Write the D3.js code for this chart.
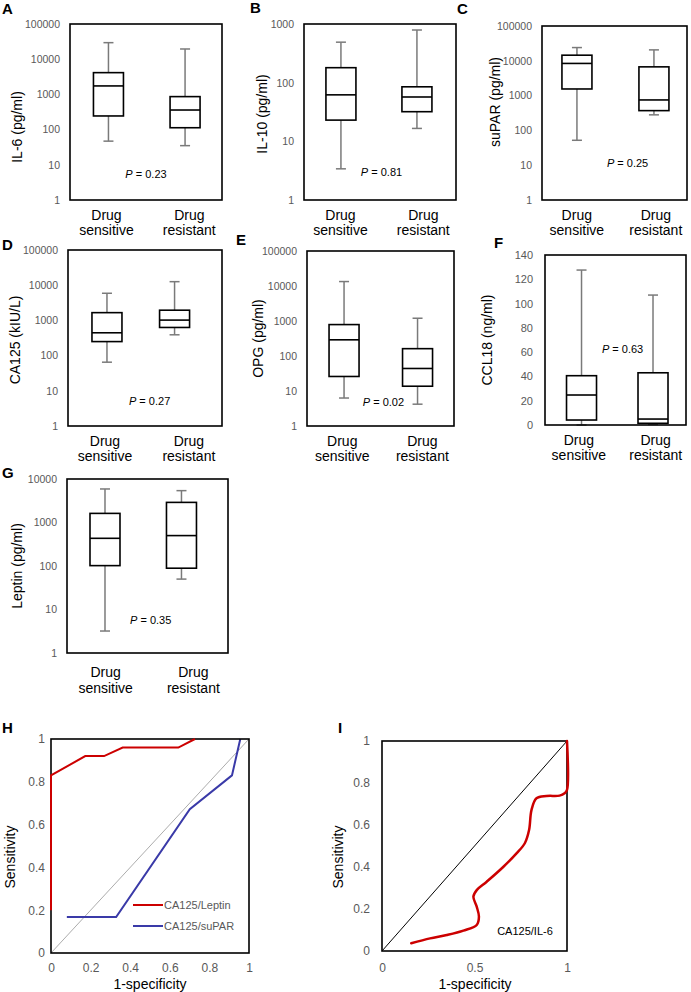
<!DOCTYPE html>
<html><head><meta charset="utf-8">
<script src="https://cdn.jsdelivr.net/npm/d3@7"></script>
<style>
body{margin:0;background:#fff;}
text{font-family:"Liberation Sans",Arial,sans-serif;}
</style></head>
<body>
<script>
// ---------- DATA ----------
const categories = ["Drug sensitive", "Drug resistant"];
// five-number summaries: [min, Q1, median, Q3, max]
const il6Sensitive   = [47, 244, 1740, 4150, 29500];
const il6Resistant   = [35, 113, 360, 865, 19500];
const il10Sensitive  = [3.4, 23, 62, 180, 490];
const il10Resistant  = [16.6, 32, 57, 85, 790];
const suparSensitive = [52, 1550, 8400, 14500, 24000];
const suparResistant = [280, 370, 750, 6700, 20600];
const ca125Sensitive = [65, 250, 445, 1660, 5900];
const ca125Resistant = [390, 630, 1020, 1950, 12600];
const opgSensitive   = [6.3, 26, 290, 790, 13400];
const opgResistant   = [4.2, 13.7, 44, 162, 1200];
const ccl18Sensitive = [0, 4.1, 24.7, 40.6, 127.6];
const ccl18Resistant = [0.5, 1.4, 4.9, 43, 107];
const leptinSensitive= [3.2, 102, 433, 1620, 5900];
const leptinResistant= [50, 89, 500, 2900, 5400];

const pValues = {A:"0.23", B:"0.81", C:"0.25", D:"0.27", E:"0.02", F:"0.63", G:"0.35"};

const logTicks5 = [1, 10, 100, 1000, 10000, 100000];
const logTicks4 = [1, 10, 100, 1000, 10000];
const logTicks3 = [1, 10, 100, 1000];
const linTicksCCL = [0, 20, 40, 60, 80, 100, 120, 140];
const rocTicksH = [0, 0.2, 0.4, 0.6, 0.8, 1];
const rocTicksIx = [0, 0.5, 1];
const rocTicksIy = [0, 0.2, 0.4, 0.6, 0.8, 1];

// ROC H
const leptinFPR = [0, 0, 0.173, 0.268, 0.362, 0.643, 0.727];
const leptinTPR = [0.2, 0.83, 0.92, 0.92, 0.96, 0.96, 1.0];
const suparFPR  = [0.08, 0.329, 0.701, 0.914, 0.956];
const suparTPR  = [0.168, 0.168, 0.672, 0.83, 1.0];
// ROC I
const il6RocFPR = [0.158,0.26,0.35,0.44,0.512,0.524,0.512,0.494,0.512,0.566,0.655,0.727,0.772,0.795,0.808,0.835,0.889,0.96,0.987,1,1];
const il6RocTPR = [0.037,0.06,0.076,0.097,0.124,0.163,0.211,0.259,0.29,0.33,0.40,0.465,0.513,0.576,0.671,0.727,0.738,0.74,0.751,0.767,1];

// ---------- PANEL DEFINITIONS ----------
const panels = [
  {id:"A", title:"IL-6 (pg/ml)",  series:[il6Sensitive, il6Resistant],   type:"log", domain:[1,1e5], ticks:logTicks5},
  {id:"B", title:"IL-10 (pg/ml)", series:[il10Sensitive, il10Resistant], type:"log", domain:[1,1e3], ticks:logTicks3},
  {id:"C", title:"suPAR (pg/ml)", series:[suparSensitive, suparResistant], type:"log", domain:[1,1e5], ticks:logTicks5},
  {id:"D", title:"CA125 (kIU/L)", series:[ca125Sensitive, ca125Resistant], type:"log", domain:[1,1e5], ticks:logTicks5},
  {id:"E", title:"OPG (pg/ml)",   series:[opgSensitive, opgResistant],   type:"log", domain:[1,1e5], ticks:logTicks5},
  {id:"F", title:"CCL18 (ng/ml)", series:[ccl18Sensitive, ccl18Resistant], type:"lin", domain:[0,140], ticks:linTicksCCL},
  {id:"G", title:"Leptin (pg/ml)",series:[leptinSensitive, leptinResistant], type:"log", domain:[1,1e4], ticks:logTicks4}
];

// ---------- LAYOUT (pixels) ----------
const layout = {
  A:{x0:70, x1:222, y0:24, y1:200, box:[0.253,0.757], titleX:53, titleDy:15, letter:[2,14], p:[0.50,0.85], labDy:[20,35]},
  B:{x0:304,x1:456, y0:24, y1:200, box:[0.243,0.743], titleX:42, titleDy:2,  letter:[250,13], p:[0.51,0.84], labDy:[20,35]},
  C:{x0:542,x1:687, y0:26, y1:200, box:[0.241,0.772], titleX:47, titleDy:-11,letter:[457,14], p:[0.59,0.79], labDy:[20,35]},
  D:{x0:68, x1:222, y0:250,y1:426, box:[0.253,0.692], titleX:53, titleDy:2,  letter:[2,250], p:[0.53,0.86], labDy:[20,35]},
  E:{x0:307,x1:454, y0:251,y1:426, box:[0.252,0.752], titleX:49, titleDy:0,  letter:[236,245], p:[0.52,0.86], labDy:[20,35]},
  F:{x0:545,x1:686, y0:255,y1:425, box:[0.259,0.766], titleX:58, titleDy:0,  letter:[494,248], p:[0.55,0.55], labDy:[20,35]},
  G:{x0:67, x1:228, y0:479,y1:653, box:[0.236,0.711], titleX:50, titleDy:0,  letter:[2,478], p:[0.52,0.81], labDy:[24,40]}
};

const svg = d3.select("body").append("svg").attr("width",691).attr("height",992);
const TICK = "#595959", WHISK = "#7a7a7a";

function letter(id, pos){
  svg.append("text").attr("x",pos[0]).attr("y",pos[1]).text(id)
    .attr("font-size",15).attr("font-weight","bold").attr("fill","#000");
}

panels.forEach(p => {
  const L = layout[p.id];
  const g = svg.append("g");
  const y = (p.type === "log" ? d3.scaleLog() : d3.scaleLinear()).domain(p.domain).range([L.y1, L.y0]);
  const w = L.x1 - L.x0;
  const xBox = d3.scaleOrdinal().domain(categories).range(L.box.map(f => L.x0 + f*w));
  const xLab = d3.scalePoint().domain(categories).range([L.x0 + 0.24*w, L.x0 + 0.785*w]);

  // axis
  const ax = g.append("g").attr("transform",`translate(${L.x0},0)`)
    .call(d3.axisLeft(y).tickValues(p.ticks).tickFormat(d3.format("d")).tickSize(0).tickPadding(p.type==="log"?10:12));
  ax.select(".domain").remove();
  ax.selectAll("text").attr("fill",TICK).attr("font-size", p.type==="log"?10.5:11).attr("font-family",'"Liberation Sans",Arial,sans-serif');

  // boxes
  const bw = 30, cap = 10;
  categories.forEach((c,i) => {
    const s = p.series[i];
    const cx = xBox(c);
    g.append("line").attr("x1",cx).attr("x2",cx).attr("y1",y(Math.max(s[0],p.domain[0]))).attr("y2",y(s[1]))
      .attr("stroke",WHISK).attr("stroke-width",1.5);
    g.append("line").attr("x1",cx).attr("x2",cx).attr("y1",y(s[3])).attr("y2",y(s[4]))
      .attr("stroke",WHISK).attr("stroke-width",1.5);
    [s[0], s[4]].forEach(v => g.append("line").attr("x1",cx-cap/2).attr("x2",cx+cap/2)
      .attr("y1",y(Math.max(v,p.domain[0]))).attr("y2",y(Math.max(v,p.domain[0]))).attr("stroke",WHISK).attr("stroke-width",1.5));
    g.append("rect").attr("x",cx-bw/2).attr("width",bw).attr("y",y(s[3])).attr("height",y(s[1])-y(s[3]))
      .attr("fill","#fff").attr("stroke","#000").attr("stroke-width",1.6);
    g.append("line").attr("x1",cx-bw/2).attr("x2",cx+bw/2).attr("y1",y(s[2])).attr("y2",y(s[2]))
      .attr("stroke","#000").attr("stroke-width",1.6);
  });

  // frame
  g.append("rect").attr("x",L.x0).attr("y",L.y0).attr("width",w).attr("height",L.y1-L.y0)
    .attr("fill","none").attr("stroke","#000").attr("stroke-width",1.6);

  // category labels
  categories.forEach(c => {
    const parts = c.split(" ");
    parts.forEach((t,k) => g.append("text").attr("x",xLab(c)).attr("y",L.y1 + L.labDy[k]).attr("text-anchor","middle")
      .attr("font-size",14).attr("fill","#000").text(t));
  });

  // y title
  g.append("text").attr("transform",`translate(${L.x0 - L.titleX},${(L.y0+L.y1)/2 + L.titleDy}) rotate(-90)`)
    .attr("text-anchor","middle").attr("dominant-baseline","central").attr("font-size",14).attr("fill","#000").text(p.title);

  // p value
  const pt = g.append("text").attr("x",L.x0 + L.p[0]*w).attr("y",L.y0 + L.p[1]*(L.y1-L.y0)).attr("text-anchor","middle")
    .attr("dominant-baseline","central").attr("font-size",11).attr("fill","#000");
  pt.append("tspan").attr("font-style","italic").text("P");
  pt.append("tspan").text(" = " + pValues[p.id]);

  letter(p.id, L.letter);
});

// ---------- ROC H ----------
(function(){
  const L = {x0:51,x1:249,y0:739,y1:953};
  const g = svg.append("g");
  const x = d3.scaleLinear().domain([0,1]).range([L.x0,L.x1]);
  const y = d3.scaleLinear().domain([0,1]).range([L.y1,L.y0]);
  const ax = g.append("g").attr("transform",`translate(0,${L.y1})`)
    .call(d3.axisBottom(x).tickValues(rocTicksH).tickFormat(d => d3.format("")(d)).tickSize(0).tickPadding(10));
  ax.select(".domain").remove();
  const ay = g.append("g").attr("transform",`translate(${L.x0},0)`)
    .call(d3.axisLeft(y).tickValues(rocTicksH).tickFormat(d => d3.format("")(d)).tickSize(0).tickPadding(6));
  ay.select(".domain").remove();
  g.selectAll(".tick text").attr("fill",TICK).attr("font-size",12).attr("font-family",'"Liberation Sans",Arial,sans-serif');

  g.append("line").attr("x1",x(0)).attr("y1",y(0)).attr("x2",x(1)).attr("y2",y(1)).attr("stroke","#888").attr("stroke-width",0.7);
  const line = d3.line().x(d=>x(d[0])).y(d=>y(d[1]));
  g.append("path").datum(suparFPR.map((v,i)=>[v,suparTPR[i]])).attr("d",line).attr("fill","none").attr("stroke","#3a3aa8").attr("stroke-width",2);
  g.append("rect").attr("x",L.x0).attr("y",L.y0).attr("width",L.x1-L.x0).attr("height",L.y1-L.y0)
    .attr("fill","none").attr("stroke","#000").attr("stroke-width",1.6);
  g.append("path").datum(leptinFPR.map((v,i)=>[v,leptinTPR[i]])).attr("d",line).attr("fill","none").attr("stroke","#cc0000").attr("stroke-width",2);

  // legend
  const leg = [["CA125/Leptin","#cc0000"],["CA125/suPAR","#3a3aa8"]];
  leg.forEach((d,i) => {
    const yy = 905 + i*21;
    g.append("line").attr("x1",133).attr("x2",163).attr("y1",yy).attr("y2",yy).attr("stroke",d[1]).attr("stroke-width",2);
    g.append("text").attr("x",164).attr("y",yy).attr("dominant-baseline","central").attr("font-size",11).attr("fill",TICK).text(d[0]);
  });
  g.append("text").attr("transform",`translate(10,${(L.y0+L.y1)/2 + 11}) rotate(-90)`).attr("text-anchor","middle")
    .attr("dominant-baseline","central").attr("font-size",14).text("Sensitivity");
  g.append("text").attr("x",150).attr("y",989).attr("text-anchor","middle").attr("font-size",14).text("1-specificity");
  letter("H",[2,733]);
})();

// ---------- ROC I ----------
(function(){
  const L = {x0:382,x1:567,y0:741,y1:951};
  const g = svg.append("g");
  const x = d3.scaleLinear().domain([0,1]).range([L.x0,L.x1]);
  const y = d3.scaleLinear().domain([0,1]).range([L.y1,L.y0]);
  const ax = g.append("g").attr("transform",`translate(0,${L.y1})`)
    .call(d3.axisBottom(x).tickValues(rocTicksIx).tickFormat(d => d3.format("")(d)).tickSize(0).tickPadding(12));
  ax.select(".domain").remove();
  const ay = g.append("g").attr("transform",`translate(${L.x0},0)`)
    .call(d3.axisLeft(y).tickValues(rocTicksIy).tickFormat(d => d3.format("")(d)).tickSize(0).tickPadding(12));
  ay.select(".domain").remove();
  g.selectAll(".tick text").attr("fill",TICK).attr("font-size",12).attr("font-family",'"Liberation Sans",Arial,sans-serif');

  g.append("line").attr("x1",x(0)).attr("y1",y(0)).attr("x2",x(1)).attr("y2",y(1)).attr("stroke","#000").attr("stroke-width",1);
  g.append("rect").attr("x",L.x0).attr("y",L.y0).attr("width",L.x1-L.x0).attr("height",L.y1-L.y0)
    .attr("fill","none").attr("stroke","#000").attr("stroke-width",1.6);
  const line = d3.line().x(d=>x(d[0])).y(d=>y(d[1])).curve(d3.curveCatmullRom.alpha(0.5));
  g.append("path").datum(il6RocFPR.map((v,i)=>[v,il6RocTPR[i]])).attr("d",line).attr("fill","none")
    .attr("stroke","#cc0000").attr("stroke-width",2.5).attr("stroke-linecap","round");
  g.append("text").attr("x",525).attr("y",931).attr("text-anchor","middle").attr("dominant-baseline","central")
    .attr("font-size",11).attr("fill","#000").text("CA125/IL-6");
  g.append("text").attr("transform",`translate(338,857) rotate(-90)`).attr("text-anchor","middle")
    .attr("dominant-baseline","central").attr("font-size",14).text("Sensitivity");
  g.append("text").attr("x",475).attr("y",989).attr("text-anchor","middle").attr("font-size",14).text("1-specificity");
  letter("I",[338,733]);
})();
</script>
</body></html>
